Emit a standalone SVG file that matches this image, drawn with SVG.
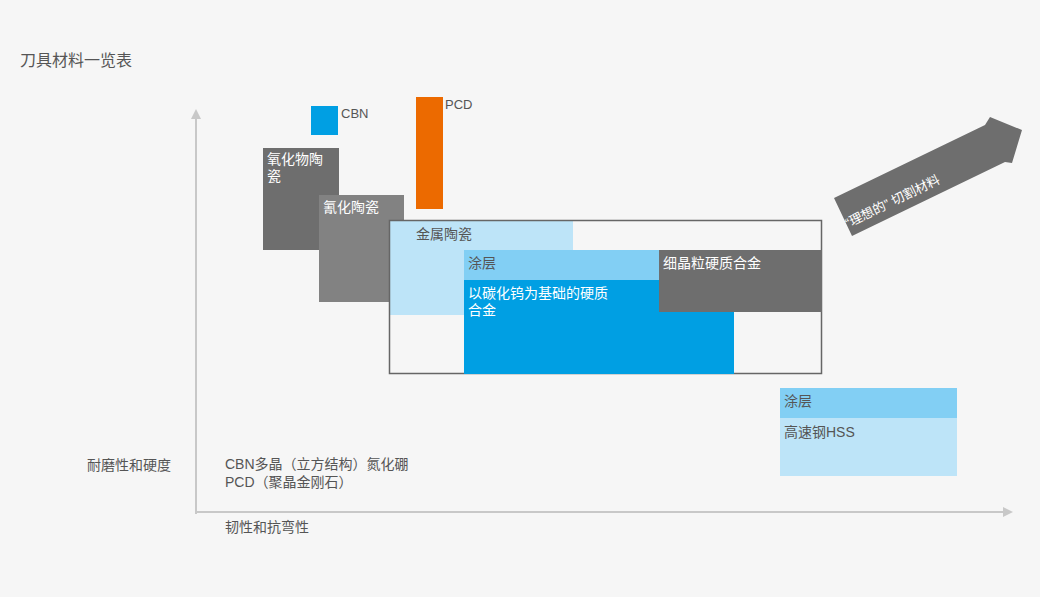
<svg xmlns="http://www.w3.org/2000/svg" width="1040" height="597" viewBox="0 0 1040 597">
<style>
text{font-family:"Liberation Sans","Noto Sans CJK SC",sans-serif;font-size:14px;fill:#555}
.w{fill:#fff}
.ax{stroke:#c8c8c8;stroke-width:2;fill:none}
</style>
<defs><marker id="ah" markerWidth="10" markerHeight="10" refX="7" refY="5" orient="auto" markerUnits="userSpaceOnUse"><path d="M0,0 L10,5 L0,10 Z" fill="#c8c8c8"/></marker></defs>
<rect width="1040" height="597" fill="#f6f6f6"/>
<text x="20" y="66" style="font-size:16px">刀具材料一览表</text>
<g id="connectors">
<line class="ax" x1="196" y1="514" x2="196" y2="112" marker-end="url(#ah)"/>
<line class="ax" x1="195" y1="512" x2="1010" y2="512" marker-end="url(#ah)"/>
</g>
<g id="cbn"><rect x="311" y="106" width="27" height="29" fill="#009fe3"/><text x="341" y="118" style="font-size:13px">CBN</text></g>
<g id="pcd"><rect x="416" y="97" width="27" height="112" fill="#ec6a00"/><text x="445" y="109" style="font-size:13px">PCD</text></g>
<g id="oxide"><rect x="263" y="148" width="76" height="102" fill="#6e6e6e"/><text class="w" x="267" y="164">氧化物陶</text><text class="w" x="267" y="181">瓷</text></g>
<g id="nitride"><rect x="319" y="195" width="85" height="107" fill="#828282"/><text class="w" x="323" y="212">氰化陶瓷</text></g>
<g id="cermet"><rect x="390" y="221" width="183" height="94" fill="#bde4f8"/><text x="416" y="239">金属陶瓷</text></g>
<g id="outline"><rect x="389.5" y="220.5" width="432" height="153" fill="none" stroke="#666" stroke-width="1.5"/></g>
<g id="coating1"><rect x="464" y="250" width="358" height="30" fill="#82cff4"/><text x="468" y="268">涂层</text></g>
<g id="carbide"><rect x="464" y="280" width="270" height="94" fill="#009fe3"/><text class="w" x="468" y="298">以碳化钨为基础的硬质</text><text class="w" x="468" y="315">合金</text></g>
<g id="finegrain"><rect x="659" y="250" width="163" height="62" fill="#6e6e6e"/><text class="w" x="663" y="268">细晶粒硬质合金</text></g>
<g id="coating2"><rect x="780" y="388" width="177" height="30" fill="#82cff4"/><text x="784" y="406">涂层</text></g>
<g id="hss"><rect x="780" y="418" width="177" height="58" fill="#bde4f8"/><text x="784" y="437">高速钢HSS</text></g>
<g id="ideal"><polygon points="834,198 985,125 990,117 1022,130 1012,163 1005,162 852,236" fill="#6e6e6e"/><text class="w" x="0" y="0" transform="translate(848,228) rotate(-26)" style="font-size:13px">“理想的” 切割材料</text></g>
<text x="87" y="470">耐磨性和硬度</text>
<text x="225" y="469">CBN多晶（立方结构）氮化硼</text>
<text x="225" y="487">PCD（聚晶金刚石）</text>
<text x="225" y="532">韧性和抗弯性</text>
</svg>
